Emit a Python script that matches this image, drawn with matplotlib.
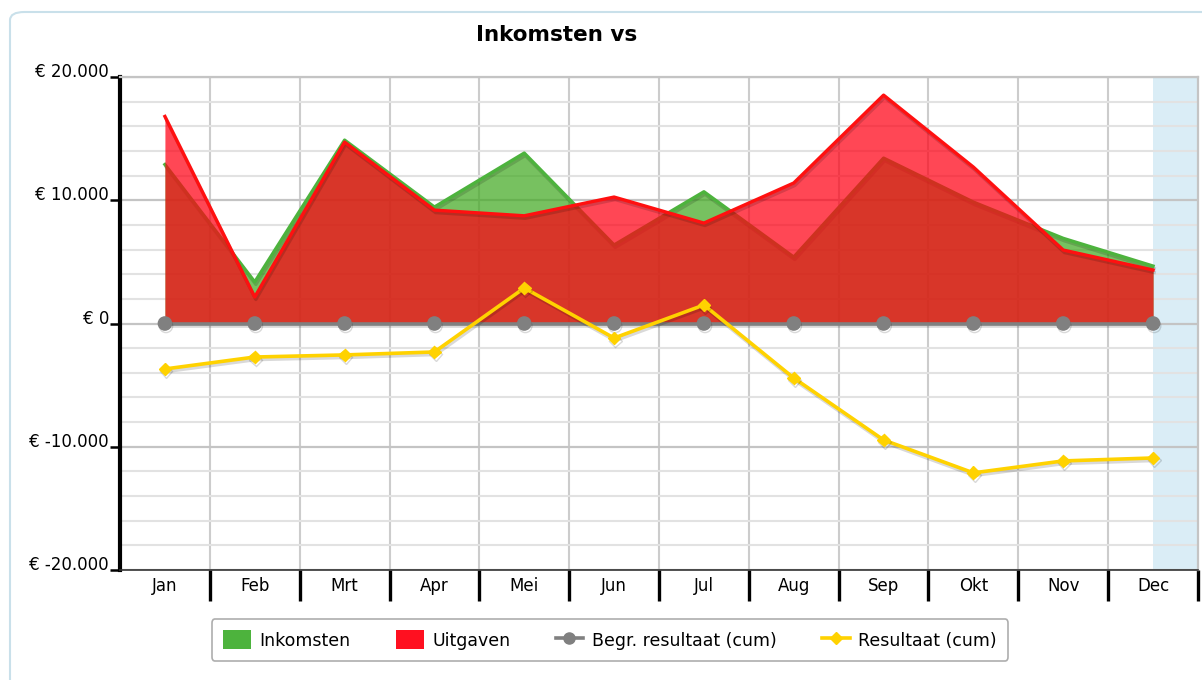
import matplotlib
matplotlib.use("Agg")
import matplotlib.pyplot as plt
import matplotlib.patheffects as pe
from matplotlib.lines import Line2D
from matplotlib.patches import FancyBboxPatch, Patch
from matplotlib.ticker import FuncFormatter, MultipleLocator
import numpy as np

plt.rcParams['font.family'] = ['DejaVu Sans']

months = ["Jan", "Feb", "Mrt", "Apr", "Mei", "Jun", "Jul", "Aug", "Sep", "Okt", "Nov", "Dec"]
inkomsten = [12900, 3370, 14880, 9450, 13830, 6370, 10690, 5390, 13420, 9850, 6910, 4660]
uitgaven = [16800, 2150, 14720, 9200, 8740, 10260, 8150, 11400, 18530, 12690, 5960, 4340]
begr_resultaat = [0, 0, 0, 0, 0, 0, 0, 0, 0, 0, 0, 0]
resultaat = [-3690, -2720, -2550, -2310, 2880, -1180, 1500, -4420, -9450, -12120, -11150, -10910]

W, H = 1202, 680
fig = plt.figure(figsize=(W / 100, H / 100), dpi=100)

# outer chart border
border = FancyBboxPatch((10 / W, -0.05), 1.2, 1.05 - 12 / H,
                        boxstyle="round,pad=0,rounding_size=0.012",
                        transform=fig.transFigure, facecolor="none",
                        edgecolor="#c9e0ea", linewidth=1.5, clip_on=False)
fig.patches.append(border)

ax = fig.add_axes([120 / W, 1 - 570 / H, (1198 - 120) / W, (570 - 77) / H])
x = np.arange(len(months))

ax.set_xlim(-0.5, len(months) - 0.5)
ax.set_ylim(-20000, 20000)

# highlight band for last month
ax.axvspan(len(months) - 1, len(months) - 0.5, color="#daedf6", zorder=0.5, lw=0)

# grid
ax.yaxis.set_major_locator(MultipleLocator(10000))
ax.yaxis.set_minor_locator(MultipleLocator(2000))
ax.grid(axis="y", which="major", color="#c4c4c4", lw=1.6, zorder=1)
ax.grid(axis="y", which="minor", color="#e2e2e2", lw=1.5, zorder=1)
for b in np.arange(0.5, len(months) - 0.5, 1):
    ax.axvline(b, color="#cccccc", lw=1.5, zorder=1)

shadow = [pe.SimpleLineShadow(offset=(0.8, -1.8), shadow_color="#000000", alpha=0.15), pe.Normal()]

# areas
ax.fill_between(x, 0, inkomsten, color="#43aa23", alpha=0.72, lw=0, zorder=2)
ax.plot(x, inkomsten, color="#4db33d", lw=2.4, zorder=3, path_effects=shadow)
ax.fill_between(x, 0, uitgaven, color="#ff0014", alpha=0.72, lw=0, zorder=4)
ax.plot(x, uitgaven, color="#ff1010", lw=2.4, zorder=5, path_effects=shadow)

# lines
ax.plot(x, begr_resultaat, color="#808080", lw=2.6, marker="o", ms=9.5,
        zorder=6, path_effects=shadow)
ax.plot(x, resultaat, color="#ffd200", lw=2.6, marker="D", ms=6.5,
        zorder=7, path_effects=shadow)

# spines
for s in ["top", "right"]:
    ax.spines[s].set_color("#c4c4c4")
    ax.spines[s].set_linewidth(1.6)
ax.spines["left"].set_color("black")
ax.spines["left"].set_linewidth(3)
ax.spines["bottom"].set_color("#333333")
ax.spines["bottom"].set_linewidth(1.2)

# y ticks
ax.yaxis.set_major_formatter(FuncFormatter(lambda v, p: "€ " + f"{int(v):,}".replace(",", ".")))
ax.tick_params(axis="y", which="major", length=7, width=1.8, color="black",
               labelsize=12, pad=1)
ax.tick_params(axis="y", which="minor", length=0)
for lbl in ax.get_yticklabels():
    lbl.set_verticalalignment("baseline")

# x ticks: boundaries as ticks, labels at centers
ax.set_xticks(np.arange(0.5, len(months), 1))
ax.set_xticklabels([])
ax.set_xticks(x, minor=True)
ax.set_xticklabels(months, minor=True)
ax.tick_params(axis="x", which="major", length=22, width=2.4, color="black", direction="out")
ax.tick_params(axis="x", which="minor", length=0, labelsize=12, pad=5)

fig.text(557 / W, 1 - 35 / H, "Inkomsten vs", ha="center", va="center",
         fontsize=15.5, fontweight="bold")

handles = [
    Patch(facecolor="#4db33d", edgecolor="none"),
    Patch(facecolor="#ff1020", edgecolor="none"),
    Line2D([], [], color="#808080", marker="o", ms=8, lw=2.6),
    Line2D([], [], color="#ffd200", marker="D", ms=6.5, lw=2.6),
]
labels = ["Inkomsten", "Uitgaven", "Begr. resultaat (cum)", "Resultaat (cum)"]
leg = fig.legend(handles, labels, loc="center", bbox_to_anchor=(610 / W, 1 - 640 / H),
                 ncol=4, frameon=True, fontsize=12.5, handlelength=1.6, handleheight=1.25,
                 columnspacing=2.6, handletextpad=0.5, borderpad=0.65,
                 fancybox=True, edgecolor="#999999")
leg.get_frame().set_linewidth(1.2)

fig.savefig("out.png", dpi=100)
